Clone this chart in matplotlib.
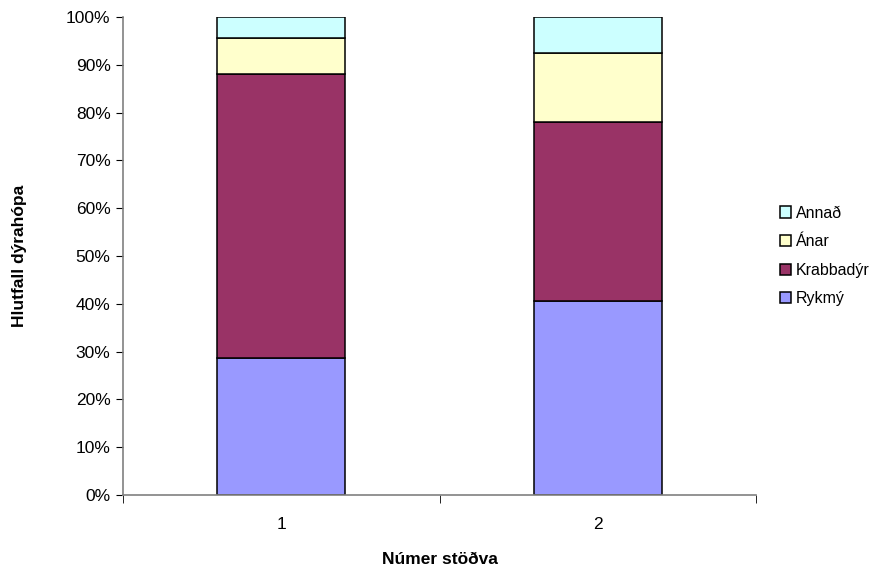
import matplotlib.pyplot as plt
import numpy as np
from matplotlib.ticker import PercentFormatter, FixedLocator

plt.rcParams['font.family'] = ['Liberation Sans', 'DejaVu Sans']

stations = ["1", "2"]
rykmy = [28.6, 40.5]
krabbadyr = [59.5, 37.5]
anar = [7.5, 14.5]
annad = [4.4, 7.5]

series = [("Rykmý", rykmy, "#9999FF"),
          ("Krabbadýr", krabbadyr, "#993366"),
          ("Ánar", anar, "#FFFFCC"),
          ("Annað", annad, "#CCFFFF")]

x = np.arange(1, len(stations) + 1)

fig = plt.figure(figsize=(8.89, 5.71), dpi=100)
ax = fig.add_axes([0.1384, 0.1331, 0.712, 0.8371])

bottom = np.zeros(len(stations))
for name, vals, color in series:
    ax.bar(x, vals, 0.405, bottom=bottom, color=color, edgecolor="black",
           linewidth=1.1, label=name)
    bottom += np.array(vals)

ax.set_xlim(0.5, 2.5)
ax.set_ylim(0, 100)
ax.set_yticks(np.arange(0, 101, 10))
ax.yaxis.set_major_formatter(PercentFormatter(decimals=0))
ax.set_xticks(x)
ax.set_xticklabels(stations)
ax.xaxis.set_minor_locator(FixedLocator([0.5, 1.5, 2.5]))
ax.tick_params(axis="x", which="major", length=0, pad=16, labelsize=12.5)
ax.tick_params(axis="x", which="minor", length=6, color="black", direction="out")
ax.tick_params(axis="y", length=5, color="black", labelsize=12.5, pad=4)

for s in ["top", "right"]:
    ax.spines[s].set_visible(False)
for s in ["left", "bottom"]:
    ax.spines[s].set_color("#808080")
    ax.spines[s].set_linewidth(1.2)

ax.set_xlabel("Númer stöðva", fontweight="bold", fontsize=12.5, labelpad=14)
ax.set_ylabel("Hlutfall dýrahópa", fontweight="bold", fontsize=12.5, labelpad=28)

handles, labels = ax.get_legend_handles_labels()
ax.legend(handles[::-1], labels[::-1], loc="center left",
          bbox_to_anchor=(1.015, 0.5), frameon=False, fontsize=11.5,
          handlelength=0.7, handleheight=0.7, handletextpad=0.3, labelspacing=0.85)

fig.savefig("out.png", dpi=100)
